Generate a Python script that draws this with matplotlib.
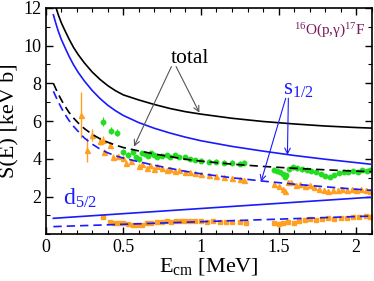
import numpy as np
import matplotlib
matplotlib.use('Agg')
import matplotlib.pyplot as plt
from matplotlib.ticker import MultipleLocator

plt.rcParams['font.family'] = ['Liberation Serif', 'DejaVu Serif']
plt.rcParams['mathtext.fontset'] = 'custom'
plt.rcParams['mathtext.rm'] = 'Liberation Serif'
plt.rcParams['mathtext.it'] = 'Liberation Serif:italic'

# model curves
e_curve = [0.05, 0.065, 0.08, 0.1, 0.12, 0.15, 0.18, 0.21, 0.25, 0.3, 0.35, 0.4, 0.45, 0.5, 0.6, 0.7, 0.8, 0.9, 1.0,
           1.2, 1.4, 1.6, 1.8, 2.0, 2.1]
total_solid = [12.48, 12.06, 11.67, 11.23, 10.87, 10.36, 9.9, 9.52, 9.08, 8.6, 8.21, 7.88, 7.61, 7.39, 7.12, 6.88, 6.67,
               6.5, 6.37, 6.15, 5.98, 5.85, 5.74, 5.66, 5.63]
s12_solid = [11.63, 11.2, 10.8, 10.35, 9.98, 9.45, 8.98, 8.58, 8.12, 7.62, 7.2, 6.84, 6.55, 6.3, 5.92, 5.62, 5.37,
             5.15, 4.96, 4.66, 4.41, 4.18, 3.98, 3.8, 3.71]
total_dash = [8.0, 7.72, 7.46, 7.14, 6.85, 6.47, 6.16, 5.9, 5.6, 5.3, 5.06, 4.88, 4.73, 4.6, 4.42, 4.26, 4.12,
              3.98, 3.88, 3.72, 3.6, 3.5, 3.42, 3.35, 3.32]
s12_dash = [7.58, 7.31, 7.05, 6.72, 6.42, 6.04, 5.72, 5.45, 5.1, 4.78, 4.52, 4.32, 4.16, 4.04, 3.85, 3.66, 3.5,
            3.34, 3.21, 3.0, 2.82, 2.66, 2.52, 2.39, 2.33]
e_d = [0.05, 2.1]
d52_solid = [0.85, 1.97]
d52_dash = [0.41, 0.97]

# total S-factor data (green)
e_tot = [0.367, 0.419, 0.457, 0.50, 0.53, 0.56, 0.58, 0.60, 0.62, 0.64, 0.66, 0.68, 0.70, 0.72, 0.75, 0.78, 0.80, 0.83, 0.86,
         0.90, 0.93, 0.96, 1.00, 1.05, 1.10, 1.15, 1.20, 1.25, 1.28, 1.47, 1.49, 1.51, 1.53, 1.54, 1.55, 1.57, 1.59, 1.62,
         1.65, 1.68, 1.71, 1.74, 1.77, 1.80, 1.83, 1.86, 1.89, 1.92, 1.95, 1.98, 2.01, 2.04, 2.07, 2.09]
s_tot = [5.97, 5.50, 5.39, 4.38, 4.20, 4.35, 4.10, 3.98, 4.30, 4.25, 4.15, 4.30, 4.20, 4.10, 4.15, 4.20, 4.10, 4.20, 4.10,
         4.10, 4.00, 3.95, 3.90, 3.85, 3.85, 3.80, 3.80, 3.75, 3.80, 3.40, 3.35, 3.30, 3.20, 3.05, 3.15, 3.45, 3.55, 3.50,
         3.45, 3.40, 3.35, 3.30, 3.20, 3.10, 3.05, 3.15, 3.25, 3.30, 3.30, 3.35, 3.30, 3.40, 3.35, 3.40]
err_tot = [0.25, 0.2, 0.2, 0.15, 0.15, 0.12, 0.12, 0.12, 0.12, 0.12, 0.12, 0.12, 0.12, 0.12, 0.12, 0.12, 0.12, 0.12, 0.12,
           0.12, 0.12, 0.12, 0.12, 0.12, 0.12, 0.12, 0.12, 0.12, 0.12, 0.12, 0.12, 0.12, 0.12, 0.12, 0.12, 0.12, 0.12, 0.12,
           0.12, 0.12, 0.12, 0.12, 0.12, 0.12, 0.12, 0.12, 0.12, 0.12, 0.12, 0.12, 0.12, 0.12, 0.12, 0.12]

# s1/2 component data (orange triangles)
e_s = [0.225, 0.264, 0.30, 0.35, 0.371, 0.378, 0.414, 0.436, 0.468, 0.50, 0.52, 0.55, 0.60, 0.62, 0.65, 0.67, 0.70, 0.72,
       0.75, 0.78, 0.80, 0.83, 0.86, 0.90, 0.93, 0.96, 1.00, 1.05, 1.10, 1.15, 1.20, 1.25, 1.28, 1.47, 1.50, 1.53, 1.54,
       1.56, 1.58, 1.61, 1.64, 1.67, 1.70, 1.73, 1.76, 1.79, 1.82, 1.85, 1.88, 1.91, 1.94, 1.97, 2.00, 2.03, 2.06, 2.09]
s_s = [6.33, 4.47, 5.27, 4.95, 5.00, 4.35, 4.74, 4.12, 4.16, 4.05, 3.77, 3.90, 3.60, 3.75, 3.50, 3.65, 3.45, 3.60,
       3.50, 3.40, 3.45, 3.35, 3.40, 3.30, 3.30, 3.25, 3.20, 3.15, 3.10, 3.05, 3.00, 2.95, 2.90, 2.65, 2.55, 2.40, 2.30,
       2.80, 2.75, 2.60, 2.65, 2.55, 2.60, 2.50, 2.40, 2.35, 2.30, 2.35, 2.35, 2.40, 2.35, 2.40, 2.35, 2.40, 2.35, 2.30]
err_s = [1.2, 0.65, 0.3, 0.2, 0.2, 0.15, 0.15, 0.12, 0.1, 0.1, 0.1, 0.08, 0.08, 0.08, 0.08, 0.08, 0.08, 0.08,
         0.08, 0.08, 0.08, 0.08, 0.08, 0.08, 0.08, 0.08, 0.08, 0.08, 0.08, 0.08, 0.08, 0.08, 0.08, 0.08, 0.08, 0.08, 0.08,
         0.08, 0.08, 0.08, 0.08, 0.08, 0.08, 0.08, 0.08, 0.08, 0.08, 0.08, 0.08, 0.08, 0.08, 0.08, 0.08, 0.08, 0.08, 0.08]

# d5/2 component data (orange squares)
e_dd = [0.371, 0.414, 0.44, 0.47, 0.50, 0.53, 0.56, 0.59, 0.62, 0.65, 0.68, 0.72, 0.75, 0.78, 0.81, 0.84, 0.87, 0.90,
        0.93, 0.96, 1.00, 1.04, 1.08, 1.12, 1.16, 1.20, 1.25, 1.29, 1.47, 1.50, 1.53, 1.56, 1.60, 1.63, 1.67, 1.70,
        1.74, 1.78, 1.82, 1.86, 1.90, 1.94, 1.98, 2.02, 2.06, 2.09]
s_dd = [0.94, 0.67, 0.60, 0.58, 0.60, 0.55, 0.50, 0.50, 0.52, 0.62, 0.60, 0.65, 0.68, 0.70, 0.68, 0.72, 0.70, 0.72,
        0.70, 0.72, 0.70, 0.68, 0.70, 0.66, 0.68, 0.64, 0.66, 0.62, 0.60, 0.55, 0.60, 0.65, 0.62, 0.70, 0.75, 0.80,
        0.78, 0.82, 0.85, 0.82, 0.88, 0.85, 0.90, 0.90, 0.95, 0.93]

green = '#22dd22'
orange = '#ffa020'
blue = '#1a1aff'

fig = plt.figure(figsize=(3.74, 2.81), dpi=100)
ax = fig.add_axes([0.122, 0.166, 0.872, 0.806])

ax.errorbar(e_tot, s_tot, yerr=err_tot, fmt='o', ms=3.2, color=green, ecolor=green, elinewidth=0.8, capsize=0, zorder=2)
ax.errorbar(e_s, s_s, yerr=err_s, fmt='^', ms=3.6, color=orange, ecolor=orange, elinewidth=1.0, capsize=0, zorder=2)
ax.plot(e_dd, s_dd, 's', ms=2.4, color=orange, zorder=2)

dash = (0, (5, 3))
ax.plot(e_curve, total_solid, color='black', lw=1.2, zorder=3)
ax.plot(e_curve, s12_solid, color=blue, lw=1.2, zorder=3)
ax.plot(e_curve, total_dash, color='black', lw=1.2, ls=dash, zorder=3)
ax.plot(e_curve, s12_dash, color=blue, lw=1.2, ls=dash, zorder=3)
ax.plot(e_d, d52_solid, color=blue, lw=1.2, zorder=3)
ax.plot(e_d, d52_dash, color=blue, lw=1.2, ls=dash, zorder=3)

# labels and arrows
ax.text(0.93, 9.07, 'total', fontsize=15.5, ha='center', va='baseline')
arr = dict(arrowstyle='->', color='#555555', lw=0.8, shrinkA=0, shrinkB=0)
ax.annotate('', xy=(0.569, 4.65), xytext=(0.81, 8.89), arrowprops=arr)
ax.annotate('', xy=(0.99, 6.45), xytext=(0.84, 8.89), arrowprops=arr)

ax.text(1.53, 7.39, r'$\mathrm{s}_{1/2}$', fontsize=16.5, color=blue, ha='left', va='baseline')
arrb = dict(arrowstyle='->', color=blue, lw=0.8, shrinkA=0, shrinkB=0)
ax.annotate('', xy=(1.557, 4.21), xytext=(1.563, 7.21), arrowprops=arrb)
ax.annotate('', xy=(1.387, 2.79), xytext=(1.546, 7.21), arrowprops=arrb)

ax.text(0.11, 1.55, r'$\mathrm{d}_{5/2}$', fontsize=17, color=blue, ha='left', va='baseline')

ax.text(1.60, 10.57, r'$^{16}$O(p,γ)$^{17}$F', fontsize=11, color='#7a1a5a', ha='left', va='baseline')

ax.set_xlim(0, 2.1)
ax.set_ylim(0, 12)
ax.xaxis.set_minor_locator(MultipleLocator(0.1))
ax.yaxis.set_minor_locator(MultipleLocator(1))
ax.set_xticks([0, 0.5, 1, 1.5, 2])
ax.set_xticklabels(['0', '0.5', '1', '1.5', '2'])
ax.set_yticks([2, 4, 6, 8, 10, 12])
ax.tick_params(which='both', direction='in', top=True, right=True, labelsize=13, pad=3)
ax.tick_params(which='major', length=5, width=1)
ax.tick_params(which='minor', length=3, width=0.8)
for sp in ax.spines.values():
    sp.set_linewidth(1.2)

ax.set_xlabel(r'E$_{\mathrm{cm}}$ [MeV]', fontsize=16, labelpad=0)
ax.set_ylabel('S(E) [keV b]', fontsize=16, labelpad=3)

fig.savefig('out.png', dpi=100)
